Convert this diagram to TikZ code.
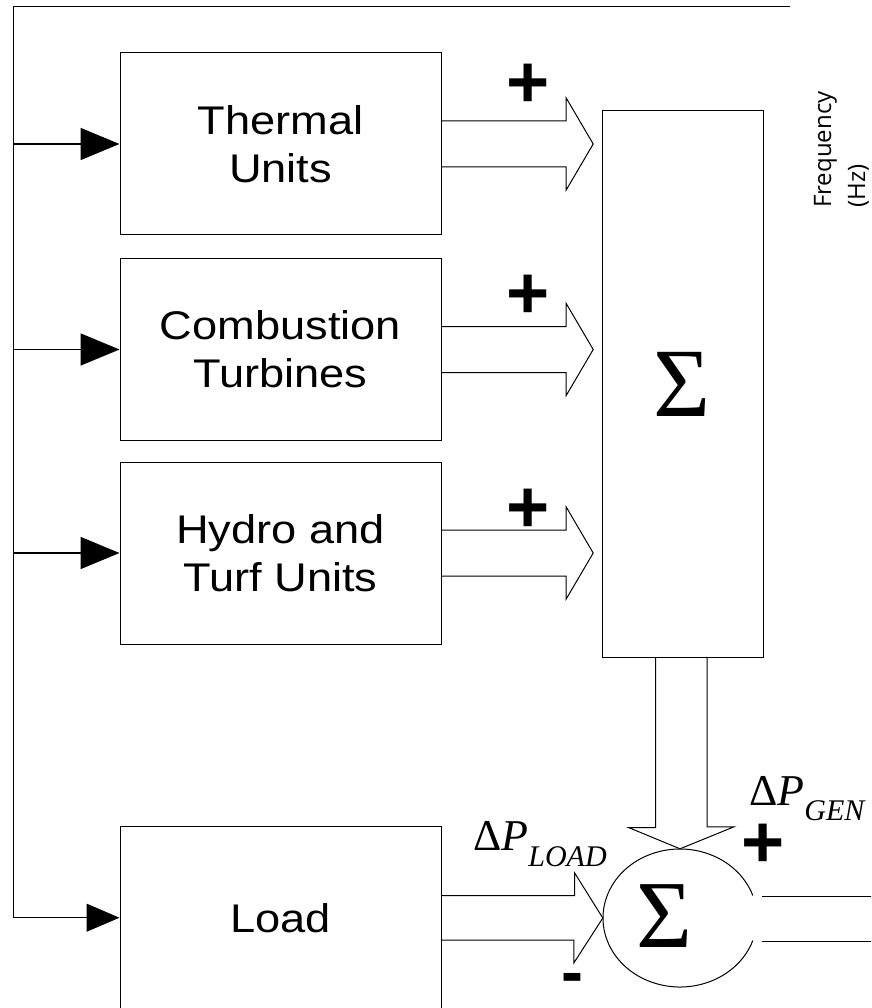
\documentclass[tikz,border=0pt]{standalone}
\usepackage{fontspec}
\usetikzlibrary{arrows.meta,calc,shapes.geometric}

\newfontfamily\boxfont[FakeStretch=1.13]{Liberation Sans}
\newfontfamily\signfont{Liberation Sans}
\newfontfamily\serffont{Liberation Serif}
\newfontfamily\freqfont{Open Sans}

\tikzset{
	unitbox/.style={draw, line width=1pt, minimum width=321pt, minimum height=182pt, inner sep=0pt, align=center, font=\boxfont\fontsize{40}{48}\selectfont},
	feed/.style={-{Triangle[length=39pt,width=32pt]}, line width=1.6pt},
	hollow/.style={line width=1pt, line join=miter},
	signtext/.style={inner sep=0pt, font=\signfont\bfseries\fontsize{74}{74}\selectfont},
	deltatext/.style={anchor=base west, inner sep=0pt, font=\serffont\fontsize{44}{44}\selectfont}
}

\begin{document}
\begin{tikzpicture}[x=1pt, y=-1pt]
	\useasboundingbox (0,0) rectangle (871,1008);
	\clip (0,0) rectangle (871,1008);
	% generating units and load
	\node[unitbox] (thermal) at (280.5,144) {Thermal\\Units};
	\node[unitbox] (combustion) at (280.5,349.5) {Combustion\\Turbines};
	\node[unitbox] (hydro) at (280.5,553) {Hydro and\\Turf Units};
	\node[unitbox] (load) at (280.5,917.7) {Load};
	% summing block and junction
	\node[draw, line width=1pt, minimum width=161pt, minimum height=546pt, inner sep=0pt, font=\serffont\fontsize{98}{98}\selectfont] (sumbox) at (682.5,384) {Σ};
	\node[ellipse, minimum width=154pt, minimum height=138pt, inner sep=0pt] (sumcirc) at (680,918) {};
	\node[inner sep=0pt, font=\serffont\fontsize{96}{96}\selectfont] (sumsign) at ($(sumcirc.center)+(-16,-2)$) {Σ};
	\draw[line width=1pt] (sumcirc.center) ++(19:77 and 69) arc (19:341:77 and 69);
	% frequency feedback
	\coordinate (corner) at (13.5,7);
	\coordinate (freq) at (790,7);
	\draw[line width=1pt, -{Triangle[length=33pt,width=28pt]}] (freq) -- (corner) |- (load.west);
	\foreach \blk in {thermal,combustion,hydro} {
		\draw[feed] (corner |- \blk.west) -- (\blk.west);
	}
	\node[rotate=90, anchor=south west, align=left, inner sep=0pt, font=\freqfont\fontsize{24}{34}\selectfont] (freqlabel) at (869,208) {Frequency\\(Hz)};
	% hollow arrows into the summing block
	\foreach \blk/\dy in {thermal/-58,combustion/-52.5,hydro/-42.5} {
		\draw[hollow] ($(\blk.east)+(0,-23)$) -- ++(124.7,0) -- ++(0,-23) -- ++(27,46) -- ++(-27,46) -- ++(0,-23) -- ++(-124.7,0);
		\node[signtext] (plus\blk) at ($(\blk.east)+(87,\dy)$) {+};
	}
	% generation into the junction
	\draw[hollow] ($(sumbox.south)+(-27,0)$) -- ++(0,170) -- ++(-27,0) -- (sumcirc.north) -- ++(54,-22) -- ++(-27,0) -- ++(0,-170);
	% load into the junction
	\draw[hollow] ($(load.east)+(0,-22)$) -- ++(133,0) -- ++(0,-23) -- (sumcirc.west) -- ++(-29,45) -- ++(0,-23) -- ++(-133,0);
	% output
	\draw[hollow] ($(sumcirc.east)+(5,-22)$) -- ++(120,0);
	\draw[hollow] ($(sumcirc.east)+(5,23)$) -- ++(120,0);
	% labels
	\node[deltatext] (dpload) at (473,850.7) {Δ\textit{P}\raisebox{-16pt}{\fontsize{30}{30}\selectfont\textit{LOAD}}};
	\node[deltatext] (dpgen) at (749,805) {Δ\textit{P}\raisebox{-15pt}{\fontsize{30}{30}\selectfont\textit{GEN}}};
	\node[signtext] (plusgen) at (763,846) {+};
	\node[inner sep=0pt, font=\signfont\bfseries\fontsize{66}{66}\selectfont] (minusload) at (572.7,984) {-};
\end{tikzpicture}
\end{document}
